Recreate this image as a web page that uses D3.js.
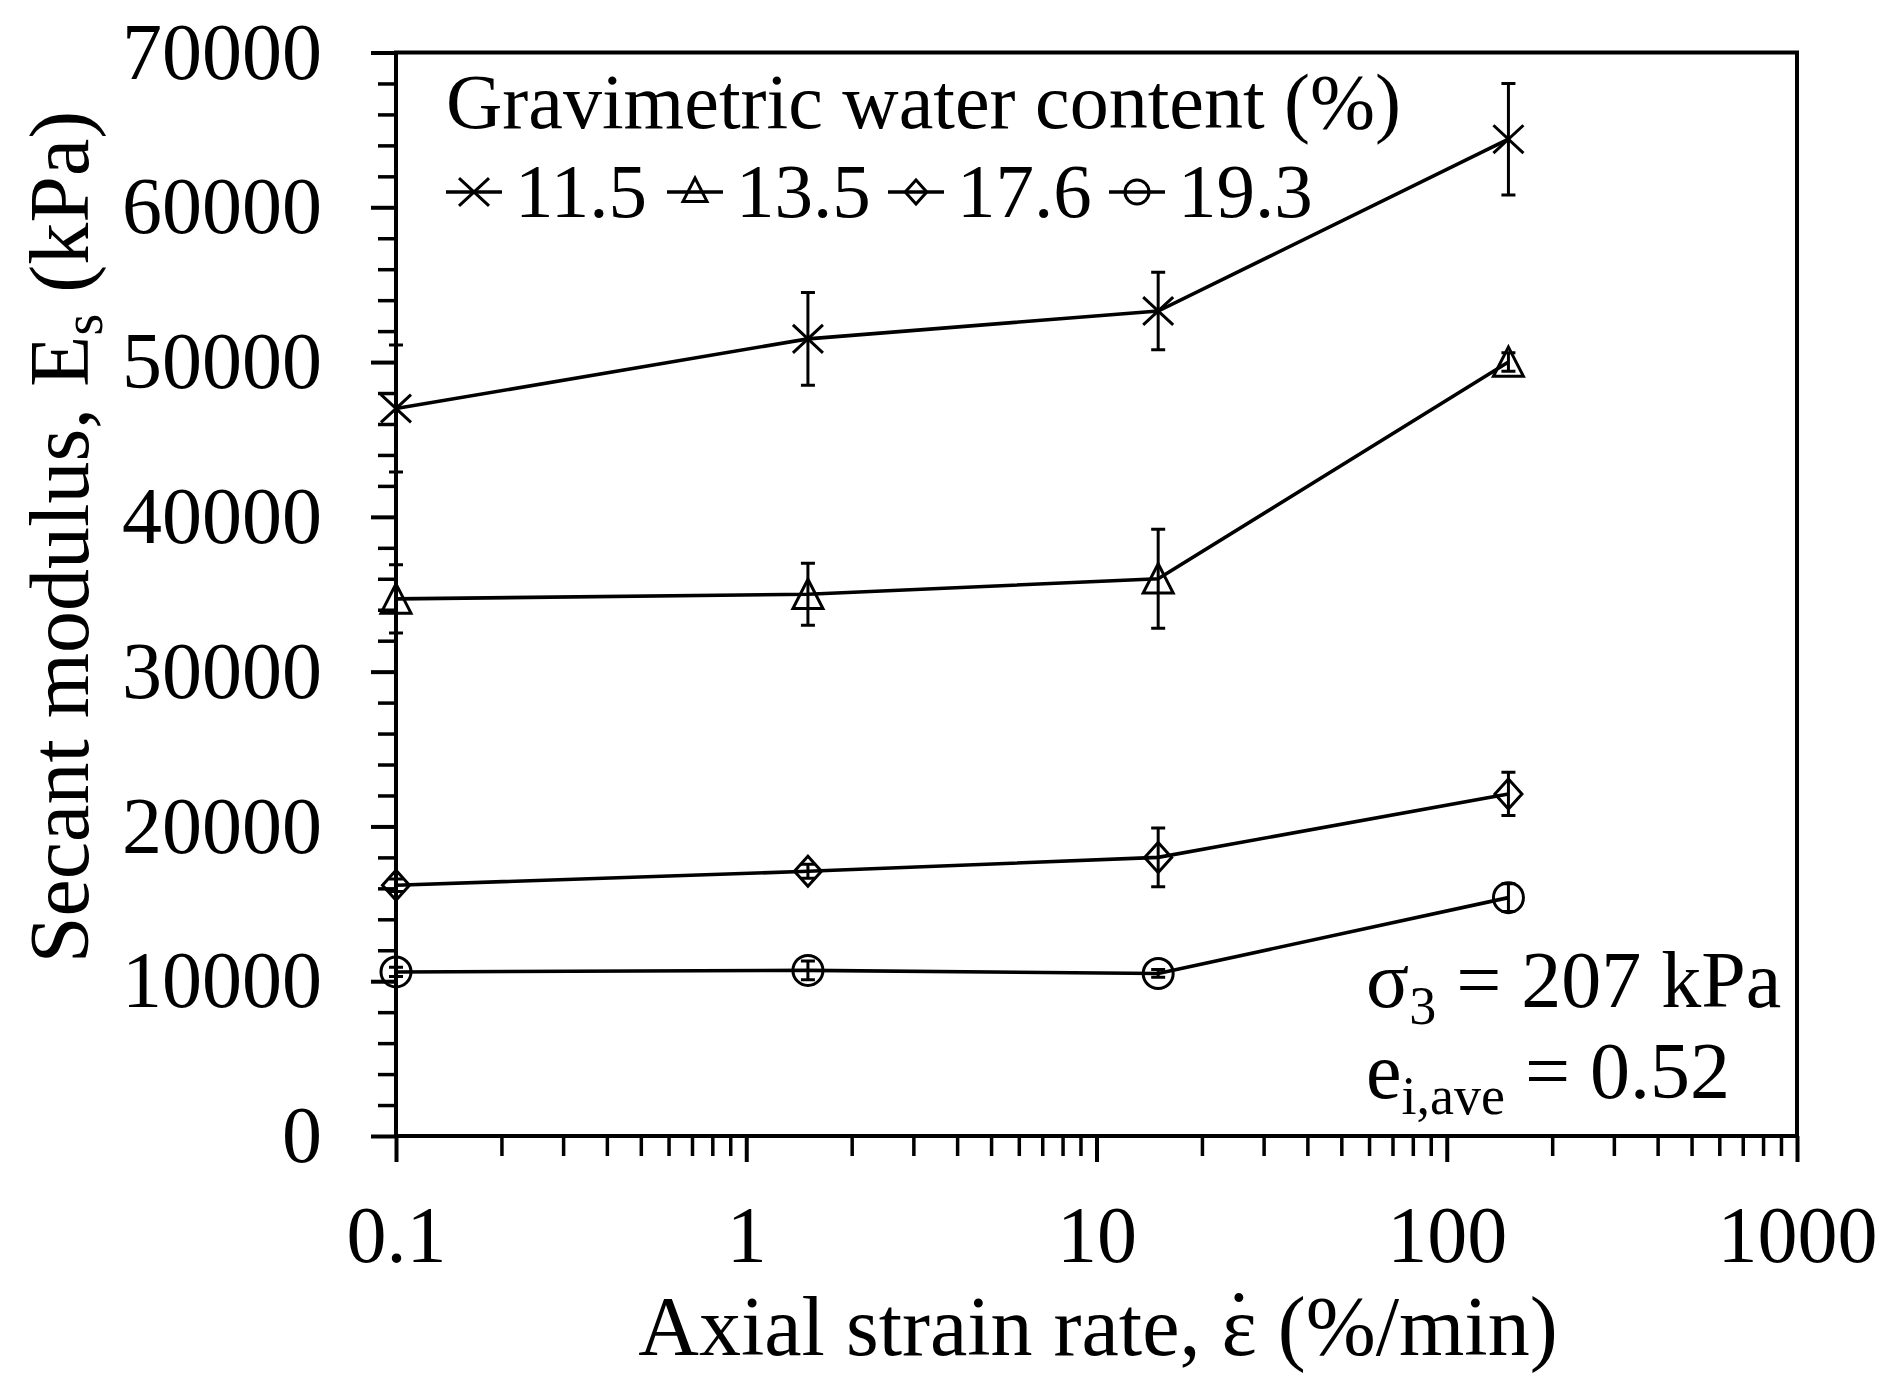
<!DOCTYPE html>
<html>
<head>
<meta charset="utf-8">
<script src="https://cdn.jsdelivr.net/npm/d3@7"></script>
<style>
  html, body { margin: 0; padding: 0; background: #fff; }
  svg { display: block; }
  text { font-family: "Liberation Serif", "Times New Roman", serif; fill: #000; }
</style>
</head>
<body>
<svg id="chart" width="1892" height="1381"></svg>
<script>
// Axial strain rates (%/min) used in every test series
const strainRates = [0.1, 1.5, 15, 150];

// Gravimetric water content (%) of each series
const waterContents = ["11.5", "13.5", "17.6", "19.3"];

// Secant modulus Es (kPa), one array per water content
const es115 = [47000, 51500, 53300, 64400];
const es135 = [34700, 35000, 36000, 50000];
const es176 = [16200, 17100, 18000, 22100];
const es193 = [10600, 10700, 10500, 15400];

// Error bar half-ranges (kPa)
const err115 = [4100, 3000, 2500, 3600];
const err135 = [2200, 2000, 3200, 600];
const err176 = [400, 450, 1900, 1400];
const err193 = [300, 600, 250, 900];

const markerShapes = ["cross", "triangle", "diamond", "circle"];

// Axis ticks
const xMajorTicks = [0.1, 1, 10, 100, 1000];
const yMajorTicks = [0, 10000, 20000, 30000, 40000, 50000, 60000, 70000];

const seriesValues = [es115, es135, es176, es193];
const seriesErrors = [err115, err135, err176, err193];

const svg = d3.select("#chart");

const plotLeft = 396, plotRight = 1797, plotTop = 52.5, plotBottom = 1136;

const x = d3.scaleLog().domain([0.1, 1000]).range([plotLeft, plotRight]);
const y = d3.scaleLinear().domain([0, 70000]).range([plotBottom, plotTop]);

// minor log ticks 2..9 per decade
const xMinorTicks = [];
[0.1, 1, 10, 100].forEach(d => { for (let k = 2; k <= 9; k++) xMinorTicks.push(d * k); });
const yMinorTicks = d3.range(0, 70001, 2000).filter(v => v % 10000 !== 0);

const axisStroke = 4;

// x axis: minor then major ticks
svg.append("g")
  .attr("transform", `translate(0,${plotBottom})`)
  .call(d3.axisBottom(x).tickValues(xMinorTicks).tickSize(20).tickFormat(""))
  .call(g => g.select(".domain").remove())
  .call(g => g.selectAll("line").attr("stroke", "#000").attr("stroke-width", 3.5));

svg.append("g")
  .attr("transform", `translate(0,${plotBottom})`)
  .call(d3.axisBottom(x).tickValues(xMajorTicks).tickSize(26).tickPadding(43)
        .tickFormat(d => d3.format("~g")(d)))
  .call(g => g.select(".domain").remove())
  .call(g => g.selectAll("line").attr("stroke", "#000").attr("stroke-width", 4))
  .call(g => g.selectAll("text").attr("font-size", 80).attr("font-family", "Liberation Serif").attr("fill", "#000"));

// y axis: minor then major ticks
svg.append("g")
  .attr("transform", `translate(${plotLeft},0)`)
  .call(d3.axisLeft(y).tickValues(yMinorTicks).tickSize(18).tickFormat(""))
  .call(g => g.select(".domain").remove())
  .call(g => g.selectAll("line").attr("stroke", "#000").attr("stroke-width", 3.5));

svg.append("g")
  .attr("transform", `translate(${plotLeft},0)`)
  .call(d3.axisLeft(y).tickValues(yMajorTicks).tickSize(25).tickPadding(49).tickFormat(d3.format("d")))
  .call(g => g.select(".domain").remove())
  .call(g => g.selectAll("line").attr("stroke", "#000").attr("stroke-width", 4))
  .call(g => g.selectAll("text").attr("font-size", 80).attr("font-family", "Liberation Serif").attr("fill", "#000"));

// plot frame
svg.append("rect")
  .attr("x", plotLeft).attr("y", plotTop)
  .attr("width", plotRight - plotLeft).attr("height", plotBottom - plotTop)
  .attr("fill", "none").attr("stroke", "#000").attr("stroke-width", axisStroke);

// marker drawing
function drawMarker(g, shape, cx, cy, s) {
  let el;
  if (shape === "cross") {
    el = g.append("path").attr("d",
      `M${cx - s},${cy - s * 0.93}L${cx + s},${cy + s * 0.93}M${cx - s},${cy + s * 0.93}L${cx + s},${cy - s * 0.93}`);
  } else if (shape === "triangle") {
    el = g.append("path").attr("d",
      `M${cx},${cy - s}L${cx + s},${cy + s * 0.95}L${cx - s},${cy + s * 0.95}Z`);
  } else if (shape === "diamond") {
    el = g.append("path").attr("d",
      `M${cx},${cy - s}L${cx + s * 0.9},${cy}L${cx},${cy + s}L${cx - s * 0.9},${cy}Z`);
  } else {
    el = g.append("circle").attr("cx", cx).attr("cy", cy).attr("r", s);
  }
  el.attr("fill", "none").attr("stroke", "#000").attr("stroke-width", 3);
}

const line = d3.line().x(d => x(d.rate)).y(d => y(d.val));
const plot = svg.append("g");

seriesValues.forEach((vals, i) => {
  const pts = strainRates.map((r, j) => ({ rate: r, val: vals[j], err: seriesErrors[i][j] }));
  plot.append("path").datum(pts)
    .attr("d", line).attr("fill", "none").attr("stroke", "#000").attr("stroke-width", 3.6);

  // error bars
  pts.forEach(p => {
    const cx = x(p.rate), y0 = y(p.val - p.err), y1 = y(p.val + p.err);
    plot.append("path")
      .attr("d", `M${cx},${y0}V${y1}M${cx - 7},${y0}H${cx + 7}M${cx - 7},${y1}H${cx + 7}`)
      .attr("fill", "none").attr("stroke", "#000").attr("stroke-width", 3);
  });

  // markers
  pts.forEach(p => drawMarker(plot, markerShapes[i], x(p.rate), y(p.val), 15));
});

// legend
svg.append("text").attr("x", 446).attr("y", 128).attr("font-size", 78)
  .text("Gravimetric water content (%)");

const legend = svg.append("g");
waterContents.forEach((wc, i) => {
  const cx = 474 + i * 221, cy = 192;
  legend.append("line").attr("x1", cx - 28).attr("x2", cx + 28)
    .attr("y1", cy).attr("y2", cy).attr("stroke", "#000").attr("stroke-width", 3.4);
  drawMarker(legend, markerShapes[i], cx, cy - (markerShapes[i] === "triangle" ? 2 : 0),
             markerShapes[i] === "cross" ? 15 : 12);
  legend.append("text").attr("x", cx + 41).attr("y", 217).attr("font-size", 77).text(wc);
});

// test conditions
const t1 = svg.append("text").attr("x", 1366).attr("y", 1007).attr("font-size", 80);
t1.append("tspan").text("σ");
t1.append("tspan").attr("font-size", 54).attr("dy", 17).text("3");
t1.append("tspan").attr("dy", -17).text(" = 207 kPa");

const t2 = svg.append("text").attr("x", 1366).attr("y", 1098).attr("font-size", 80);
t2.append("tspan").text("e");
t2.append("tspan").attr("font-size", 54).attr("dy", 16).text("i,ave");
t2.append("tspan").attr("dy", -16).text(" = 0.52");

// axis titles (strain-rate symbol: epsilon with an overdot)
const xt = svg.append("text")
  .attr("x", 1098).attr("y", 1355).attr("text-anchor", "middle").attr("font-size", 84);
xt.append("tspan").text("Axial strain rate, ε");
xt.append("tspan").attr("dx", -32).attr("dy", -6).text("\u02D9");
xt.append("tspan").attr("dx", 4).attr("dy", 6).text(" (%/min)");

const yt = svg.append("text")
  .attr("transform", "translate(88,537) rotate(-90)")
  .attr("text-anchor", "middle").attr("font-size", 84);
yt.append("tspan").text("Secant modulus, E");
yt.append("tspan").attr("font-size", 56).attr("dy", 14).text("s");
yt.append("tspan").attr("dy", -14).text(" (kPa)");
</script>
</body>
</html>
